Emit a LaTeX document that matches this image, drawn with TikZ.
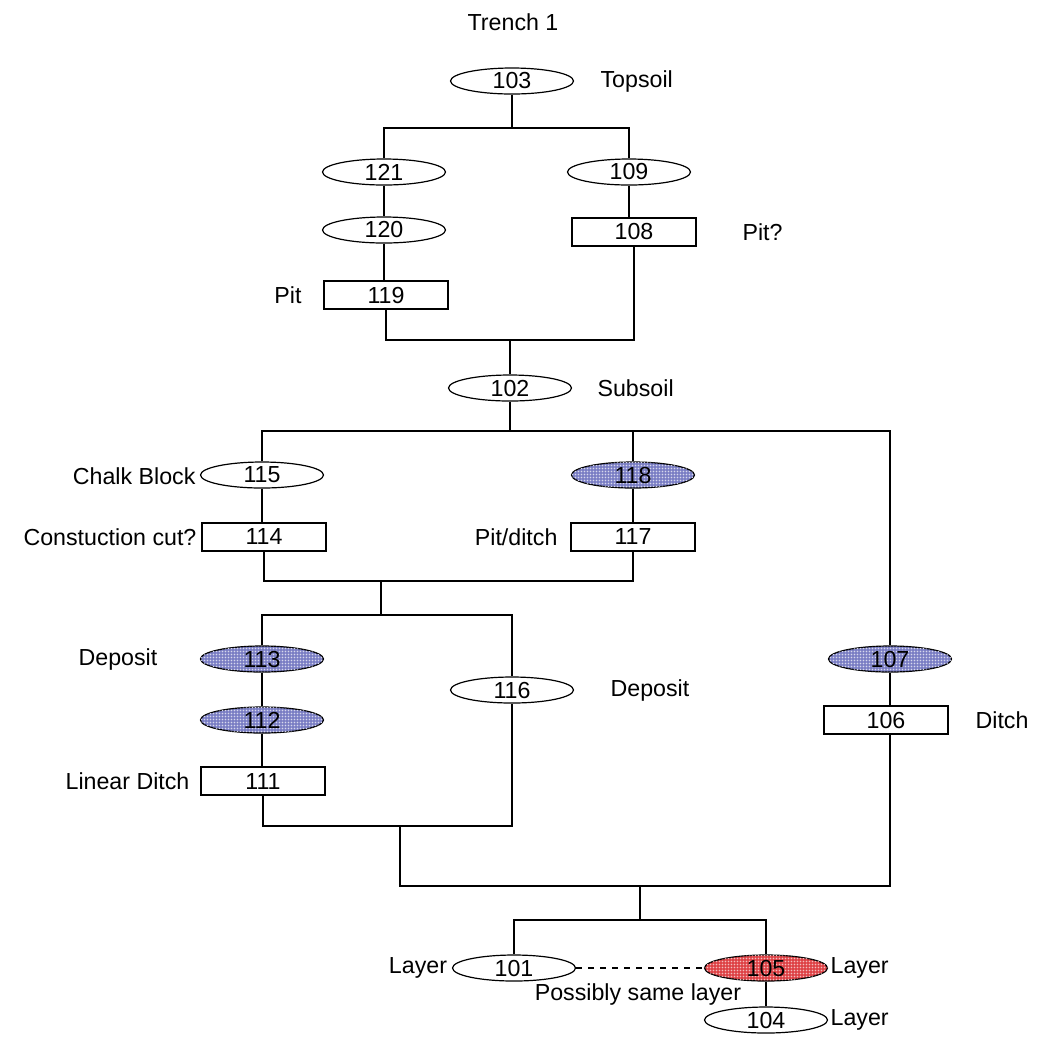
\documentclass[tikz,border=0pt]{standalone}
\usepackage{fontspec}
\setmainfont{Liberation Sans}
\usetikzlibrary{shapes.geometric,patterns}
\definecolor{blueA}{RGB}{122,126,196}
\definecolor{redA}{RGB}{222,66,70}
\pgfdeclarepatternformonly{finedots}{\pgfpointorigin}{\pgfpoint{1.7pt}{1.7pt}}{\pgfpoint{1.7pt}{1.7pt}}%
{\pgfpathcircle{\pgfpoint{0.85pt}{0.85pt}}{0.5pt}\pgfusepath{fill}}
\begin{document}
\begin{tikzpicture}[x=0.5pt,y=-0.5pt,line width=0.6pt,
  font=\fontsize{11.6}{13}\selectfont,
  ell/.style={ellipse,draw,inner sep=0pt,minimum width=61.5pt,minimum height=13pt},
  box/.style={rectangle,draw,inner sep=0pt,minimum width=62pt,minimum height=14pt},
  blueell/.style={ell,fill=blueA,postaction={pattern=finedots,pattern color=white!70!blueA}},
  redell/.style={ell,fill=redA,postaction={pattern=finedots,pattern color=white!65!redA}},
  lbl/.style={inner sep=0pt}]
\useasboundingbox (0,0) rectangle (1043,1041);
% title
\node[lbl] (title) at (513,22) {Trench 1};
% nodes
\node[ell] (n103) at (512,81) {103};
\node[lbl,anchor=west] (t103) at (600,81) {Topsoil};
\node[ell] (n121) at (384,172) {121};
\node[ell] (n109) at (629,172) {109};
\node[ell] (n120) at (384,230) {120};
\node[box] (n108) at (634,232) {108};
\node[lbl,anchor=west] (t108) at (742,232) {Pit?};
\node[box] (n119) at (386,295) {119};
\node[lbl] (t119) at (288,295) {Pit};
\node[ell] (n102) at (510,388) {102};
\node[lbl,anchor=west] (t102) at (597,388) {Subsoil};
\node[ell] (n115) at (262,475) {115};
\node[lbl,anchor=east] (t115) at (196,476) {Chalk Block};
\node[blueell] (n118) at (633,475) {118};
\node[box] (n114) at (264,537) {114};
\node[lbl,anchor=east] (t114) at (197,537) {Constuction cut?};
\node[box] (n117) at (633,537) {117};
\node[lbl,anchor=east] (t117) at (558,537) {Pit/ditch};
\node[blueell] (n113) at (262,659) {113};
\node[lbl] (t113) at (118,659) {Deposit};
\node[ell] (n116) at (512,690) {116};
\node[lbl,anchor=west] (t116) at (610,690) {Deposit};
\node[blueell] (n107) at (890,659) {107};
\node[box] (n106) at (886,720) {106};
\node[lbl,anchor=west] (t106) at (975,720) {Ditch};
\node[blueell] (n112) at (262,720) {112};
\node[box] (n111) at (263,781) {111};
\node[lbl,anchor=east] (t111) at (190,781) {Linear Ditch};
\node[ell] (n101) at (514,968) {101};
\node[lbl] (t101) at (418,968) {Layer};
\node[redell] (n105) at (766,968) {105};
\node[lbl,anchor=west] (t105) at (830,968) {Layer};
\node[lbl] (tsame) at (638,994) {Possibly same layer};
\node[ell] (n104) at (766,1020) {104};
\node[lbl,anchor=west] (t104) at (830,1020) {Layer};
% junctions
\coordinate (j1) at (512,128);
\coordinate (j2) at (510,340);
\coordinate (j3) at (510,431);
\coordinate (j4) at (381,581);
\coordinate (j5) at (381,615);
\coordinate (j6) at (400,826);
\coordinate (k7) at (400,886);
\coordinate (j7) at (640,886);
\coordinate (j8) at (640,920);
% connectors
\draw (n103.south) -- (j1);
\draw (n121.north) |- (j1) -| (n109.north);
\draw (n121.south) -- (n121.south |- n120.north);
\draw (n120.south) -- (n120.south |- n119.north);
\draw (n109.south) -- (n109.south |- n108.north);
\draw (n119.south) |- (j2) -| (n108.south);
\draw (j2) -- (n102.north);
\draw (n102.south) -- (j3);
\draw (n115.north) |- (j3) -| (n107.north);
\draw (n118.north) -- (n118.north |- j3);
\draw (n115.south) -- (n115.south |- n114.north);
\draw (n118.south) -- (n118.south |- n117.north);
\draw (n114.south) |- (j4) -| (n117.south);
\draw (j4) -- (j5);
\draw (n113.north) |- (j5) -| (n116.north);
\draw (n113.south) -- (n113.south |- n112.north);
\draw (n112.south) -- (n112.south |- n111.north);
\draw (n107.south) -- (n107.south |- n106.north);
\draw (n111.south) |- (j6) -| (n116.south);
\draw (j6) -- (k7) -- (j7);
\draw (n106.south -| n107.south) |- (j7);
\draw (j7) -- (j8);
\draw (n101.north) |- (j8) -| (n105.north);
\draw[dashed] (n101.east) -- (n105.west);
\draw (n105.south) -- (n104.north);
\end{tikzpicture}
\end{document}
